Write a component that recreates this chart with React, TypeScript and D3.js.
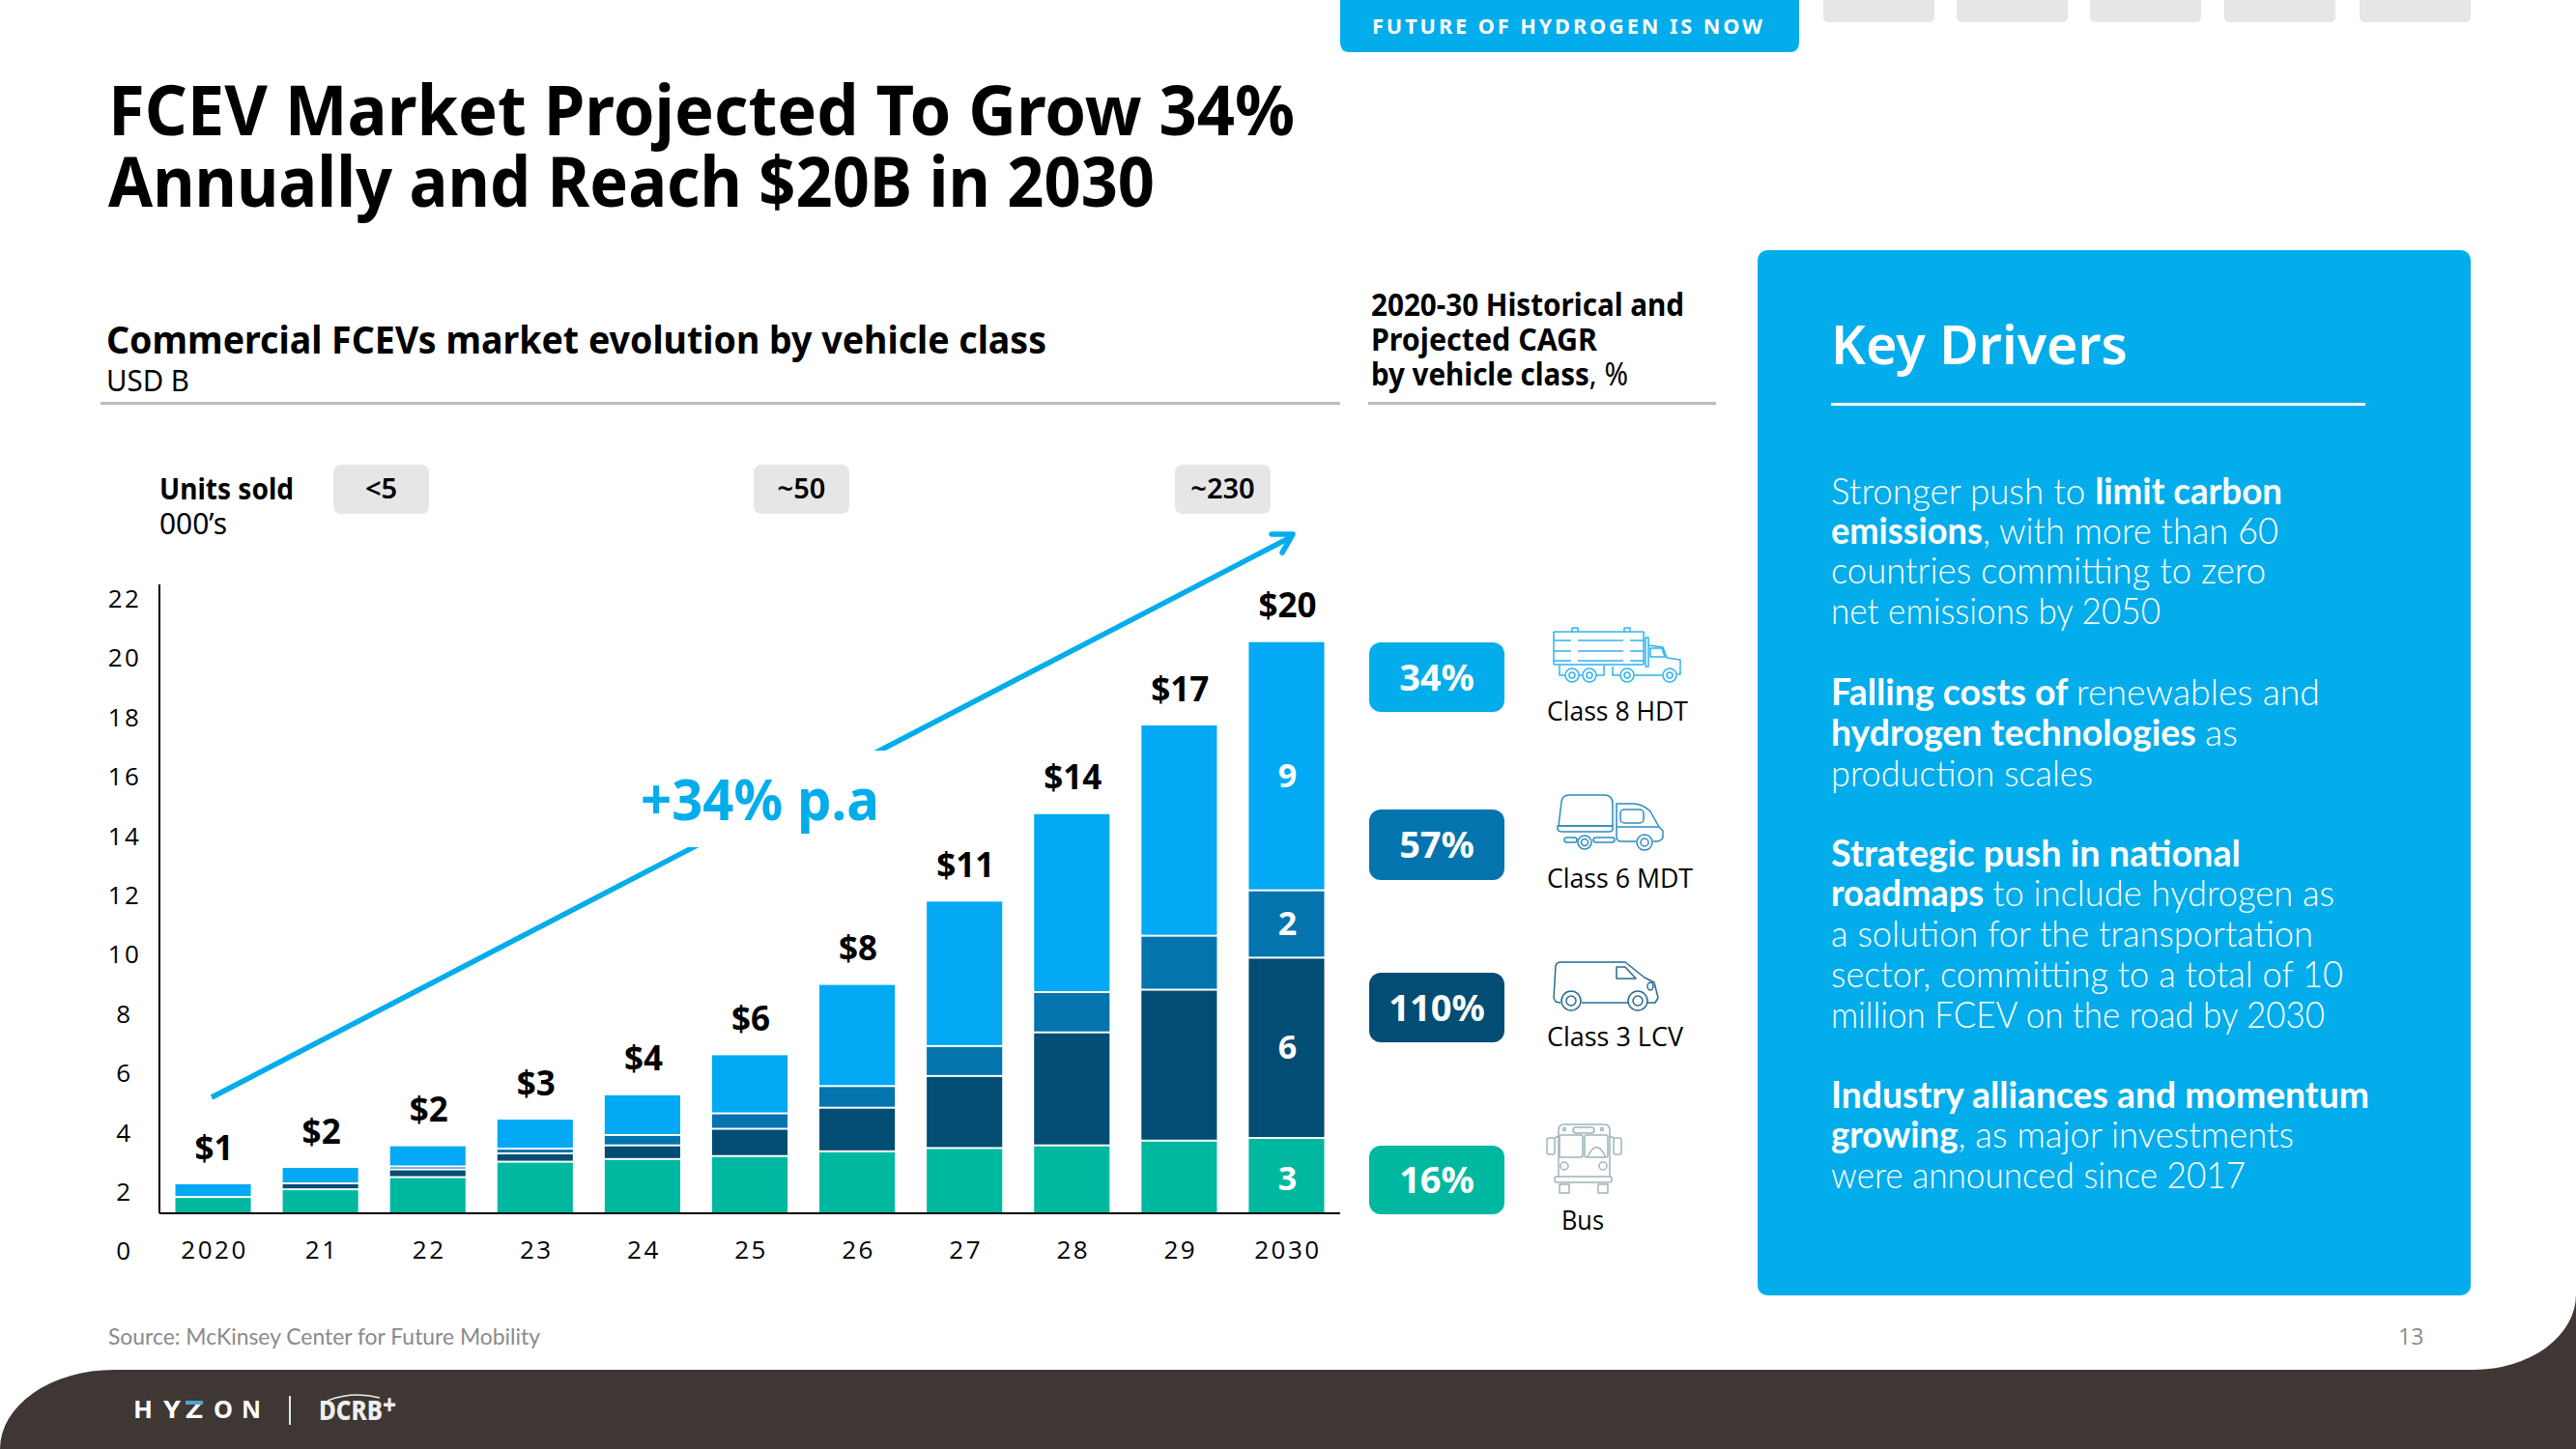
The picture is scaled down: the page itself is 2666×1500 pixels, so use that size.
import React from 'react';
import * as d3 from 'd3';

const years = ['2020', '21', '22', '23', '24', '25', '26', '27', '28', '29', '2030'];
const busValues = [0.55, 0.81, 1.22, 1.74, 1.83, 1.93, 2.09, 2.2, 2.29, 2.45, 2.54];
const lcvValues = [0, 0.2, 0.26, 0.28, 0.46, 0.92, 1.47, 2.43, 3.81, 5.09, 6.08];
const mdtValues = [0, 0, 0.1, 0.16, 0.35, 0.52, 0.73, 1.01, 1.36, 1.82, 2.27];
const hdtValues = [0.43, 0.52, 0.68, 0.98, 1.34, 1.96, 3.41, 4.87, 6.0, 7.09, 8.37];
const totalLabels = ['$1', '$2', '$2', '$3', '$4', '$6', '$8', '$11', '$14', '$17', '$20'];
const lastBarLabels = ['3', '6', '2', '9'];
const seriesKeys = ['bus', 'lcv', 'mdt', 'hdt'];
const seriesColors = ['#00B8A0', '#024D74', '#0474AE', '#03A9F4'];
const yTicks = d3.range(0, 23, 2);

const unitPills = ['<5', '~50', '~230'];
const cagrValues = ['34%', '57%', '110%', '16%'];
const cagrColors = ['#03ADEB', '#0474AE', '#024D74', '#00B8A0'];
const classNames = ['Class 8 HDT', 'Class 6 MDT', 'Class 3 LCV', 'Bus'];
const logoLetters = ['H', 'Y', 'Z', 'O', 'N'];

type Run = [string, boolean];
// text, bold flag, right edge and baseline of each line in the drivers box
const driverLines: [Run[], number, number][] = [
  [[['Stronger push to ', false], ['limit carbon', true]], 2362, 522],
  [[['emissions', true], [', with more than 60', false]], 2358, 563],
  [[['countries committing to zero', false]], 2345, 604],
  [[['net emissions by 2050', false]], 2236, 646],
  [[['Falling costs of ', true], ['renewables and', false]], 2401, 730],
  [[['hydrogen technologies ', true], ['as', false]], 2316, 772],
  [[['production scales', false]], 2166, 814],
  [[['Strategic push in national', true]], 2319, 897],
  [[['roadmaps ', true], ['to include hydrogen as', false]], 2416, 938],
  [[['a solution for the transportation', false]], 2394, 980],
  [[['sector, committing to a total of 10', false]], 2425, 1022],
  [[['million FCEV on the road by 2030', false]], 2406, 1064],
  [[['Industry alliances and momentum', true]], 2452, 1147],
  [[['growing', true], [', as major investments', false]], 2374, 1188],
  [[['were announced since 2017', false]], 2324, 1230],
];

const SANS = '"Noto Sans", "Open Sans", sans-serif';
const BODY = 'Lato, "Open Sans", sans-serif';
const TICK = '"Open Sans", sans-serif';

// one line of text squeezed to the width it has in the picture
const Fit = ({ x, y, w, size, weight = 400, fill = '#000', family = SANS, children }: any) => (
  <text x={x} y={y} textLength={w} lengthAdjust="spacingAndGlyphs" fontSize={size} fontWeight={weight} fill={fill} fontFamily={family}>
    {children}
  </text>
);

// bar chart frame
const x0 = 165;
const x1 = 1387;
const baseY = 1256;
const pxPerUnit = 30.7;

const xScale = d3.scaleBand<string>().domain(years).range([x0, x1]).paddingInner(0.297).paddingOuter(0.1485);
const yScale = d3.scaleLinear().domain([0, 22]).range([baseY, baseY - 22 * pxPerUnit]);
const labelOffset = 38; // the tick labels sit lower than the value they name

const rows = years.map((year, i) => ({
  year,
  bus: busValues[i],
  lcv: lcvValues[i],
  mdt: mdtValues[i],
  hdt: hdtValues[i],
}));
const stacked = d3.stack<any>().keys(seriesKeys)(rows);

const iconLine = { fill: 'none', strokeWidth: 1.5, strokeLinejoin: 'round' as const };

const HdtIcon = () => (
  <g {...iconLine} stroke="#2FB4EE">
    <path d="M1608,654 H1701 M1608,663 H1626 M1633,663 H1680 M1687,663 H1701 M1608,674 H1626 M1633,674 H1680 M1687,674 H1701 M1608,684 H1626 M1633,684 H1680 M1687,684 H1701 M1608,688 H1701 M1608,654 V688 M1701,654 V688" />
    <path d="M1627,654 V650 H1633 V654 M1681,654 V650 H1687 V654" />
    <path d="M1703,660 H1706 V690 H1703 Z M1706,668 L1721,670 L1725,681 L1739,683 V698 H1735" />
    <path d="M1708,671 H1720 L1723,680 H1708 Z" />
    <path d="M1614,689 V699 H1620 M1634,699 H1638 M1652,699 H1660 V689 M1669,690 V699 H1677 M1691,699 H1721" />
    <circle cx="1627" cy="699" r="7" /><circle cx="1627" cy="699" r="3" />
    <circle cx="1645" cy="699" r="7" /><circle cx="1645" cy="699" r="3" />
    <circle cx="1684" cy="699" r="7" /><circle cx="1684" cy="699" r="3" />
    <circle cx="1728" cy="699" r="7" /><circle cx="1728" cy="699" r="3" />
  </g>
);

const MdtIcon = () => (
  <g {...iconLine} stroke="#2A8CC0">
    <path d="M1613,855 L1616,830 Q1617,823 1624,823 H1660 Q1669,823 1669,832 V855 Z" />
    <path d="M1612,855 H1669 V858 Q1669,861 1665,861 H1617 Q1612,861 1612,858 Z" />
    <path d="M1673,832 H1690 Q1700,832 1708,840 L1717,856 H1673 Z M1673,856 V866 Q1673,871 1678,871 H1693 M1717,856 L1721,860 V867 Q1719,871 1714,871 H1711" />
    <rect x="1677" y="838" width="24" height="14" rx="4" />
    <rect x="1619" y="867" width="13" height="5" rx="2.5" />
    <rect x="1649" y="867" width="22" height="5" rx="2.5" />
    <circle cx="1640" cy="872" r="7" /><circle cx="1640" cy="872" r="3.5" />
    <circle cx="1702" cy="872" r="8" /><circle cx="1702" cy="872" r="4" />
  </g>
);

const LcvIcon = () => (
  <g {...iconLine} stroke="#2A6A8E">
    <path d="M1615,1038 L1610,1037 L1608,1033 L1610,1000 Q1611,996 1615,996 H1682 L1702,1012 L1712,1017 L1716,1033 L1713,1038 H1705 M1637,1038 H1685" />
    <path d="M1673,1001 H1682 L1693,1013 H1673 Z" />
    <ellipse cx="1708" cy="1021" rx="3" ry="4" />
    <circle cx="1626" cy="1036" r="10" /><circle cx="1626" cy="1036" r="5" />
    <circle cx="1695" cy="1036" r="10" /><circle cx="1695" cy="1036" r="5" />
  </g>
);

const BusIcon = () => (
  <g {...iconLine} stroke="#9DB5BA">
    <path d="M1613,1218 V1170 Q1613,1164 1619,1164 H1660 Q1666,1164 1666,1170 V1218" />
    <rect x="1614" y="1175" width="24" height="23" rx="2" />
    <rect x="1640" y="1175" width="24" height="23" rx="2" />
    <rect x="1628" y="1167" width="22" height="6" rx="3" />
    <rect x="1601" y="1178" width="8" height="17" rx="2" />
    <rect x="1670" y="1178" width="8" height="17" rx="2" />
    <path d="M1609,1178 L1613,1176 M1670,1178 L1666,1176" />
    <circle cx="1619" cy="1169" r="1.5" /><circle cx="1658" cy="1169" r="1.5" />
    <circle cx="1619" cy="1207" r="4" /><circle cx="1659" cy="1207" r="4" />
    <rect x="1609" y="1218" width="59" height="6" rx="2" />
    <rect x="1614" y="1226" width="10" height="9" /><rect x="1654" y="1226" width="10" height="9" />
    <path d="M1643,1198 Q1652,1177 1662,1198" />
  </g>
);

const App = () => {
  const growthStart: [number, number] = [219, 1136];
  const growthEnd: [number, number] = [1336, 556];
  const growthLine = d3.line()([growthStart, growthEnd]) as string;

  const pillY = [665, 838, 1007, 1186];
  const pillH = [72, 73, 72, 71];
  const classX = [1601, 1601, 1601, 1616];
  const classW = [146, 151, 141, 44];
  const classBase = [746, 919, 1083, 1273];
  const unitX = [345, 780, 1216];
  const lastBarShift = [3, -1, -1, 10];
  const logoX = [138, 169, 192, 221, 250];
  const logoW = [20, 18, 18, 20, 20];

  const driverWidth = (right: number) => right - 1895;

  return (
    <svg width={2666} height={1500} viewBox="0 0 2666 1500" style={{ position: 'absolute', left: 0, top: 0, background: '#fff' }}>
      {/* header tabs */}
      <path d="M1387,0 H1862 V44 Q1862,54 1852,54 H1397 Q1387,54 1387,44 Z" fill="#03ADEB" />
      {[1887, 2025, 2163, 2302, 2442].map((x) => (
        <path key={x} d={`M${x},0 H${x + 115} V17 Q${x + 115},23 ${x + 109},23 H${x + 6} Q${x},23 ${x},17 Z`} fill="#E6E6E6" />
      ))}
      <Fit x={1420} y={35} w={407} size={22} weight={700} fill="#fff">
        <tspan letterSpacing="3">FUTURE OF HYDROGEN IS NOW</tspan>
      </Fit>

      {/* title */}
      <Fit x={112} y={140} w={1228} size={72} weight={700}>FCEV Market Projected To Grow 34%</Fit>
      <Fit x={112} y={214} w={1083} size={72} weight={700}>Annually and Reach $20B in 2030</Fit>

      {/* left heading */}
      <Fit x={110} y={366} w={973} size={39} weight={700}>Commercial FCEVs market evolution by vehicle class</Fit>
      <Fit x={110} y={405} w={86} size={30}>USD B</Fit>
      <rect x={104} y={416} width={1283} height={3} fill="#BBBBBB" />

      {/* CAGR heading */}
      <Fit x={1419} y={327} w={324} size={32} weight={700}>2020-30 Historical and</Fit>
      <Fit x={1419} y={363} w={234} size={32} weight={700}>Projected CAGR</Fit>
      <text x={1419} y={399} textLength={266} lengthAdjust="spacingAndGlyphs" fontSize={32} fontFamily={SANS}>
        <tspan fontWeight={700}>by vehicle class</tspan>, %
      </text>
      <rect x={1416} y={416} width={360} height={3} fill="#BBBBBB" />

      {/* units sold */}
      <Fit x={165} y={517} w={139} size={30} weight={700}>Units sold</Fit>
      <Fit x={165} y={553} w={70} size={30}>000’s</Fit>
      {unitPills.map((label, i) => (
        <g key={label}>
          <rect x={unitX[i]} y={481} width={99} height={51} rx={8} fill="#E6E6E6" />
          <text x={unitX[i] + 49.5} y={516} textAnchor="middle" fontSize={29} fontWeight={600} fontFamily={SANS}>{label}</text>
        </g>
      ))}

      {/* growth arrow, cut behind its label */}
      <path d={growthLine} fill="none" stroke="#03ADEB" strokeWidth={5.5} />
      <path d="M1316,553 H1338 L1327,572" fill="none" stroke="#03ADEB" strokeWidth={5.5} strokeLinecap="round" strokeLinejoin="round" />
      <rect x={600} y={777} width={360} height={100} fill="#fff" />
      <Fit x={663} y={849} w={247} size={60} weight={700} fill="#03ADEB">+34% p.a</Fit>

      {/* stacked bars */}
      {stacked.map((layer, s) => (
        <g key={layer.key} fill={seriesColors[s]}>
          {layer.map((d, i) => (d[1] > d[0] ? (
            <rect
              key={years[i]}
              x={xScale(years[i])}
              y={yScale(d[1]) + (s === seriesKeys.length - 1 ? 0 : 1)}
              width={xScale.bandwidth()}
              height={Math.max(0, yScale(d[0]) - yScale(d[1]) - (s === 0 || s === seriesKeys.length - 1 ? 1 : 2))}
            />
          ) : null))}
        </g>
      ))}

      {/* labels on the last bar */}
      {stacked.map((layer, s) => {
        const d = layer[years.length - 1];
        return (
          <text
            key={layer.key}
            x={xScale('2030')! + xScale.bandwidth() / 2 + 1}
            y={yScale((d[0] + d[1]) / 2) + lastBarShift[s]}
            dy="0.36em"
            textAnchor="middle"
            fontSize={34}
            fontWeight={700}
            fill="#fff"
            fontFamily={SANS}
          >
            {lastBarLabels[s]}
          </text>
        );
      })}

      {/* totals */}
      {stacked[stacked.length - 1].map((d, i) => (
        <text
          key={years[i]}
          x={xScale(years[i])! + xScale.bandwidth() / 2 + 1}
          y={yScale(d[1]) - 38}
          dy="0.36em"
          textAnchor="middle"
          fontSize={35}
          fontWeight={700}
          fontFamily={SANS}
        >
          {totalLabels[i]}
        </text>
      ))}

      {/* axes */}
      <line x1={x0} x2={x0} y1={605} y2={baseY} stroke="#000" strokeWidth={2} />
      <line x1={x0} x2={x1} y1={baseY} y2={baseY} stroke="#000" strokeWidth={2} />
      {yTicks.map((t) => (
        <text key={t} x={129} y={yScale(t) + labelOffset + 1} dy="0.36em" textAnchor="middle" fontSize={26} letterSpacing={2.5} fontFamily={TICK}>{t}</text>
      ))}
      {years.map((year) => (
        <text key={year} x={xScale(year)! + xScale.bandwidth() / 2 + 1.5} y={baseY + labelOffset} dy="0.36em" textAnchor="middle" fontSize={26} letterSpacing={2.5} fontFamily={TICK}>{year}</text>
      ))}

      {/* CAGR column */}
      {cagrValues.map((label, i) => (
        <g key={label}>
          <rect x={1417} y={pillY[i]} width={140} height={pillH[i]} rx={12} fill={cagrColors[i]} />
          <text x={1487} y={pillY[i] + pillH[i] / 2} dy="0.36em" textAnchor="middle" fontSize={38} fontWeight={700} fill="#fff" fontFamily={SANS}>{label}</text>
          <text x={classX[i]} y={classBase[i]} textLength={classW[i]} lengthAdjust="spacingAndGlyphs" fontSize={27} fontFamily={TICK}>{classNames[i]}</text>
        </g>
      ))}
      <HdtIcon />
      <MdtIcon />
      <LcvIcon />
      <BusIcon />

      {/* key drivers */}
      <rect x={1819} y={259} width={738} height={1082} rx={10} fill="#03ADEB" />
      <Fit x={1895} y={377} w={307} size={56} weight={600} fill="#fff">Key Drivers</Fit>
      <rect x={1895} y={417} width={553} height={3} fill="#fff" />
      {driverLines.map(([runs, right, base]) => (
        <text key={base} x={1895} y={base} textLength={driverWidth(right)} lengthAdjust="spacingAndGlyphs" fontSize={38} fill="#fff" fontFamily={BODY} fontWeight={300}>
          {runs.map(([t, bold]) => (
            <tspan key={t} fontWeight={bold ? 700 : 300}>{t}</tspan>
          ))}
        </text>
      ))}

      {/* source and page number */}
      <Fit x={112} y={1392} w={447} size={23} fill="#8A8A8A" family={BODY}>Source: McKinsey Center for Future Mobility</Fit>
      <text x={2482} y={1392} fontSize={23} fill="#8A8A8A" fontFamily={TICK}>13</text>

      {/* footer */}
      <path d="M0,1500 A118,82 0 0 1 118,1418 H2560 A106,78 0 0 0 2666,1340 V1500 Z" fill="#3E3733" />
      {logoLetters.map((letter, i) => (
        <text key={letter} x={logoX[i]} y={1468} textLength={logoW[i]} lengthAdjust="spacingAndGlyphs" fontSize={25} fontWeight={700} fill="#fff" fontFamily={SANS}>{letter}</text>
      ))}
      <rect x={192} y={1450} width={18} height={4} fill="#4FA3D1" />
      <rect x={299} y={1445} width={2} height={30} fill="#E6E6E6" />
      <path d="M339,1450 Q365,1440 393,1447" fill="none" stroke="#EEE" strokeWidth={1.5} />
      <text x={330} y={1470} textLength={80} lengthAdjust="spacingAndGlyphs" fontSize={28} fontWeight={800} fill="#EEE" fontFamily={SANS}>
        DCRB<tspan dy={-6}>+</tspan>
      </text>
    </svg>
  );
};

export default App;
